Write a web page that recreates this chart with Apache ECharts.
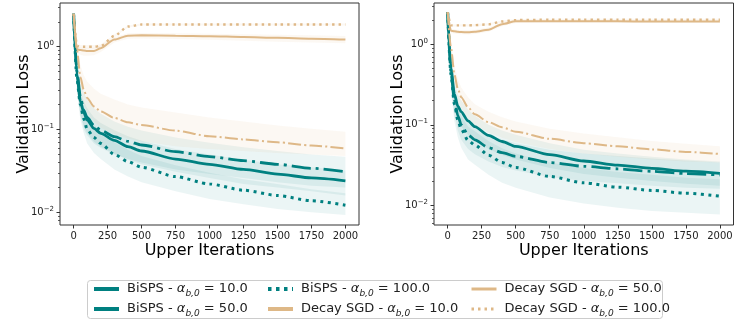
<!DOCTYPE html>
<html><head><meta charset="utf-8">
<script src="https://cdn.jsdelivr.net/npm/echarts@6/dist/echarts.min.js"></script>
<style>html,body{margin:0;padding:0;background:#fff}#c{width:740px;height:320px}</style>
</head><body><div id="c"></div><script>
// ---------------- data ----------------
const X = [0,25,50,75,100,150,200,300,400,500,750,1000,1250,1500,1750,2000];
const X_TICKS = [0,250,500,750,1000,1250,1500,1750,2000];
const Y_MAJOR = [0.01,0.1,1];
const Y_MINOR = [0.006,0.007,0.008,0.009,0.02,0.03,0.04,0.05,0.06,0.07,0.08,0.09,0.2,0.3,0.4,0.5,0.6,0.7,0.8,0.9,2,3];
const NAMES = ['BiSPS - α_{b,0} = 10.0','BiSPS - α_{b,0} = 50.0','BiSPS - α_{b,0} = 100.0',
               'Decay SGD - α_{b,0} = 10.0','Decay SGD - α_{b,0} = 50.0','Decay SGD - α_{b,0} = 100.0'];

// left panel means
const L_B10  = [2.5,0.5,0.25,0.17,0.14,0.112,0.098,0.082,0.072,0.065,0.054,0.047,0.042,0.038,0.034,0.031];
const L_B50  = [2.5,0.45,0.22,0.16,0.13,0.103,0.09,0.074,0.062,0.055,0.044,0.038,0.033,0.029,0.026,0.024];
const L_B100 = [2.5,0.4,0.2,0.135,0.1,0.08,0.068,0.05,0.041,0.035,0.027,0.022,0.0185,0.016,0.0138,0.0122];
const L_D10  = [2.5,0.9,0.43,0.3,0.24,0.19,0.165,0.138,0.122,0.113,0.097,0.083,0.076,0.07,0.064,0.059];
const L_D50  = [2.5,0.93,0.91,0.9,0.89,0.89,0.96,1.22,1.36,1.37,1.36,1.34,1.31,1.28,1.25,1.22];
const L_D100 = [2.5,1.02,1.0,1.0,1.0,1.0,1.02,1.35,1.75,1.85,1.85,1.85,1.85,1.85,1.85,1.85];
// left panel bands
const L_B10_LO  = [2.4,0.33,0.15,0.1,0.085,0.068,0.06,0.05,0.044,0.04,0.033,0.029,0.026,0.023,0.021,0.02];
const L_B10_HI  = [2.6,0.75,0.4,0.28,0.23,0.18,0.155,0.125,0.108,0.097,0.08,0.069,0.061,0.055,0.05,0.047];
const L_B50_LO  = [2.4,0.32,0.15,0.11,0.09,0.071,0.062,0.051,0.043,0.038,0.031,0.026,0.022,0.02,0.018,0.016];
const L_B50_HI  = [2.6,0.6,0.3,0.22,0.18,0.14,0.12,0.098,0.083,0.073,0.058,0.05,0.043,0.038,0.035,0.032];
const L_B100_LO = [2.4,0.28,0.13,0.09,0.068,0.052,0.044,0.033,0.027,0.023,0.018,0.0145,0.0125,0.011,0.01,0.0093];
const L_B100_HI = [2.6,0.55,0.28,0.19,0.145,0.115,0.095,0.07,0.057,0.048,0.037,0.03,0.025,0.022,0.019,0.017];
const L_D10_LO  = [2.4,0.75,0.32,0.2,0.16,0.125,0.105,0.088,0.078,0.072,0.063,0.058,0.055,0.052,0.05,0.048];
const L_D10_HI  = [2.6,1.1,0.6,0.45,0.38,0.31,0.27,0.23,0.2,0.185,0.16,0.14,0.125,0.112,0.102,0.094];
const L_D50_LO  = [2.4,0.85,0.8,0.78,0.78,0.79,0.86,1.12,1.25,1.26,1.24,1.21,1.18,1.15,1.12,1.1];
const L_D50_HI  = [2.6,1.0,0.98,0.97,0.97,0.97,1.04,1.3,1.45,1.46,1.45,1.43,1.41,1.39,1.37,1.35];
const L_D100_LO = [2.4,0.97,0.95,0.95,0.95,0.95,0.97,1.3,1.7,1.8,1.8,1.8,1.8,1.8,1.8,1.8];
const L_D100_HI = [2.6,1.07,1.05,1.05,1.05,1.05,1.07,1.4,1.8,1.9,1.9,1.9,1.9,1.9,1.9,1.9];

// right panel means
const R_B10  = [2.5,0.45,0.2,0.13,0.1,0.075,0.065,0.052,0.045,0.0405,0.034,0.0305,0.0284,0.0264,0.0248,0.0238];
const R_B50  = [2.5,0.5,0.24,0.17,0.145,0.112,0.095,0.074,0.062,0.054,0.0425,0.0355,0.0316,0.0288,0.0265,0.0249];
const R_B100 = [2.5,0.42,0.18,0.115,0.088,0.064,0.056,0.042,0.034,0.0295,0.0228,0.019,0.0168,0.0153,0.0141,0.013];
const R_D10  = [2.5,0.9,0.42,0.28,0.22,0.165,0.135,0.108,0.093,0.082,0.067,0.059,0.054,0.0495,0.046,0.0434];
const R_D50  = [2.5,1.47,1.45,1.43,1.42,1.41,1.43,1.52,1.78,1.93,1.93,1.93,1.93,1.92,1.92,1.92];
const R_D100 = [2.5,1.72,1.72,1.72,1.72,1.72,1.73,1.77,1.92,2.0,2.02,2.02,2.02,2.02,2.02,2.02];
// right panel bands
const R_B10_LO  = [2.4,0.3,0.13,0.085,0.065,0.05,0.043,0.035,0.03,0.027,0.0225,0.02,0.0188,0.0175,0.0165,0.016];
const R_B10_HI  = [2.6,0.65,0.3,0.2,0.15,0.11,0.095,0.076,0.066,0.059,0.049,0.044,0.041,0.038,0.036,0.034];
const R_B50_LO  = [2.4,0.35,0.16,0.115,0.095,0.075,0.064,0.05,0.042,0.037,0.029,0.0245,0.022,0.02,0.0185,0.0175];
const R_B50_HI  = [2.6,0.7,0.34,0.24,0.2,0.155,0.13,0.1,0.085,0.075,0.059,0.049,0.044,0.04,0.037,0.035];
const R_B100_LO = [2.4,0.27,0.11,0.07,0.052,0.037,0.032,0.024,0.019,0.0165,0.0125,0.0105,0.0093,0.0085,0.0081,0.0077];
const R_B100_HI = [2.6,0.6,0.27,0.17,0.13,0.095,0.083,0.063,0.051,0.044,0.034,0.029,0.026,0.024,0.022,0.021];
const R_D10_LO  = [2.4,0.75,0.32,0.2,0.16,0.12,0.1,0.08,0.069,0.061,0.05,0.044,0.04,0.037,0.035,0.034];
const R_D10_HI  = [2.6,1.1,0.55,0.37,0.29,0.22,0.18,0.145,0.124,0.11,0.089,0.078,0.07,0.063,0.058,0.054];
const R_D50_LO  = [2.4,1.38,1.36,1.34,1.33,1.32,1.34,1.43,1.68,1.84,1.86,1.86,1.86,1.85,1.85,1.85];
const R_D50_HI  = [2.6,1.56,1.54,1.52,1.51,1.5,1.52,1.62,1.88,2.02,2.0,2.0,2.0,1.99,1.99,1.99];
const R_D100_LO = [2.4,1.66,1.66,1.66,1.66,1.66,1.67,1.71,1.86,1.95,1.97,1.97,1.97,1.97,1.97,1.97];
const R_D100_HI = [2.6,1.78,1.78,1.78,1.78,1.78,1.79,1.83,1.98,2.06,2.08,2.08,2.08,2.08,2.08,2.08];

// ---------------- style ----------------
const TEAL = '#008080', TAN = '#DEB887';
const FONT = 'DejaVu Sans';
const LSTYLE = [
  {color: TEAL, width: 2.8, type: [19,5,3,5]},
  {color: TEAL, width: 2.8, type: 'solid'},
  {color: TEAL, width: 3, type: [3,4.5]},
  {color: TAN, width: 2, type: [12.8,3.2,2,3.2]},
  {color: TAN, width: 2, type: 'solid'},
  {color: TAN, width: 2.4, type: [2.4,4]}
];
const BAND_ALPHA = [0.08,0.08,0.08,0.1,0.1,0.1];

const PANELS = [
  {means: [L_B10,L_B50,L_B100,L_D10,L_D50,L_D100],
   lo: [L_B10_LO,L_B50_LO,L_B100_LO,L_D10_LO,L_D50_LO,L_D100_LO],
   hi: [L_B10_HI,L_B50_HI,L_B100_HI,L_D10_HI,L_D50_HI,L_D100_HI],
   yMin: 0.00703, yMax: 3.37, grid: {left: 60, top: 3, width: 299, height: 222}},
  {means: [R_B10,R_B50,R_B100,R_D10,R_D50,R_D100],
   lo: [R_B10_LO,R_B50_LO,R_B100_LO,R_D10_LO,R_D50_LO,R_D100_LO],
   hi: [R_B10_HI,R_B50_HI,R_B100_HI,R_D10_HI,R_D50_HI,R_D100_HI],
   yMin: 0.00569, yMax: 3.26, grid: {left: 434, top: 3, width: 299.5, height: 222}}
];

const grids = [], xAxes = [], yAxes = [], series = [];
PANELS.forEach((p, pi) => {
  grids.push(Object.assign({show: true, borderColor: '#333', borderWidth: 1, backgroundColor: '#fff', containLabel: false, outerBoundsMode: 'none'}, p.grid));
  xAxes.push({
    type: 'value', gridIndex: pi, min: -100, max: 2100, position: 'bottom',
    name: 'Upper Iterations', nameLocation: 'middle', nameGap: 18, nameMoveOverlap: false,
    nameTextStyle: {fontFamily: FONT, fontSize: 16, color: '#000'},
    axisLine: {show: false, onZero: false}, splitLine: {show: false},
    axisTick: {show: true, length: 3.5, customValues: X_TICKS, lineStyle: {color: '#333', width: 1}},
    axisLabel: {show: true, customValues: X_TICKS, margin: 6, fontFamily: FONT, fontSize: 10, color: '#222',
      formatter: v => String(v)}
  });
  const minors = Y_MINOR.filter(v => v > p.yMin && v < p.yMax);
  yAxes.push({
    type: 'log', logBase: 10, gridIndex: pi, min: p.yMin, max: p.yMax, position: 'left',
    name: 'Validation Loss', nameLocation: 'middle', nameGap: 28, nameMoveOverlap: false,
    nameTextStyle: {fontFamily: FONT, fontSize: 16, color: '#000'},
    axisLine: {show: false, onZero: false}, splitLine: {show: false}, minorTick: {show: false},
    axisTick: {show: true, length: 3.5, customValues: Y_MAJOR, lineStyle: {color: '#333', width: 1}},
    axisLabel: {show: true, customValues: Y_MAJOR, margin: 6, fontFamily: FONT, fontSize: 10, color: '#222', lineHeight: 14,
      formatter: v => { const e = Math.round(Math.log10(v)); return '10{sup|' + (e < 0 ? '\u2212' + (-e) : e) + '}'; },
      rich: {sup: {fontFamily: FONT, fontSize: 7, lineHeight: 8, verticalAlign: 'top', color: '#222'}}}
  });
  yAxes.push({
    type: 'log', logBase: 10, gridIndex: pi, min: p.yMin, max: p.yMax, position: 'left', offset: 0,
    axisLine: {show: false, onZero: false}, splitLine: {show: false}, axisLabel: {show: false},
    axisTick: {show: true, length: 2, customValues: minors, lineStyle: {color: '#333', width: 0.8}}
  });
  const yi = pi * 2;
  // bands
  p.means.forEach((m, si) => {
    const lo = p.lo[si], hi = p.hi[si];
    series.push({
      type: 'custom', xAxisIndex: pi, yAxisIndex: yi, silent: true, z: 1, clip: true,
      data: X.map((x, i) => [x, lo[i], hi[i]]),
      encode: {x: 0, y: [1, 2]},
      renderItem: (params, api) => {
        if (params.dataIndex !== 0) return null;
        const top = X.map((x, i) => api.coord([x, hi[i]]));
        const bot = X.map((x, i) => api.coord([x, lo[i]])).reverse();
        return {type: 'polygon', shape: {points: top.concat(bot)},
                style: {fill: LSTYLE[si].color, opacity: BAND_ALPHA[si]}};
      }
    });
  });
  // lines
  p.means.forEach((m, si) => {
    series.push({
      type: 'line', name: NAMES[si], xAxisIndex: pi, yAxisIndex: yi, silent: true, z: 3,
      data: X.map((x, i) => [x, m[i]]), symbol: 'none', showSymbol: false,
      smooth: 0.25, smoothMonotone: 'x',
      lineStyle: Object.assign({cap: 'butt'}, LSTYLE[si]), itemStyle: {color: LSTYLE[si].color}
    });
  });
});

const legendFmt = n => n.replace('α_{b,0}', '{a|α}{s|b,0}');
const legendRich = {
  a: {fontFamily: FONT, fontSize: 13, fontStyle: 'italic', color: '#222', lineHeight: 18},
  s: {fontFamily: FONT, fontSize: 9, fontStyle: 'italic', color: '#222', lineHeight: 10, verticalAlign: 'bottom'}
};
const HIDE_SYM = {opacity: 0, borderWidth: 0};
const LEG_ITEMS = [
  {name: NAMES[0], itemStyle: HIDE_SYM, lineStyle: {type: 'solid', width: 4}},
  {name: NAMES[1], itemStyle: HIDE_SYM, lineStyle: {type: 'solid', width: 4}},
  {name: NAMES[2], itemStyle: HIDE_SYM, lineStyle: {type: [3.5,4.5], width: 4}},
  {name: NAMES[3], itemStyle: HIDE_SYM, lineStyle: {type: 'solid', width: 4}},
  {name: NAMES[4], itemStyle: HIDE_SYM, lineStyle: {type: 'solid', width: 3}},
  {name: NAMES[5], itemStyle: HIDE_SYM, lineStyle: {type: [2.5,4], width: 3}}
];
function mkLegend(left, items) {
  return {
    orient: 'vertical', left: left, top: 280, padding: 0, itemGap: 2,
    itemWidth: 25, itemHeight: 14, selectedMode: false,
    data: items, formatter: legendFmt,
    textStyle: {fontFamily: FONT, fontSize: 13, color: '#222', lineHeight: 18, padding: [0,0,0,3], rich: legendRich}
  };
}

const chart = echarts.init(document.getElementById('c'), null, {renderer: 'canvas'});
chart.setOption({
  animation: false,
  backgroundColor: '#fff',
  grid: grids, xAxis: xAxes, yAxis: yAxes, series: series,
  legend: [mkLegend(92, LEG_ITEMS.slice(0,2)), mkLegend(266, LEG_ITEMS.slice(2,4)), mkLegend(470, LEG_ITEMS.slice(4,6))],
  graphic: [{type: 'rect', z: 0, silent: true, shape: {x: 87.5, y: 280.5, width: 575, height: 38, r: 3},
             style: {fill: '#fff', stroke: '#ccc', lineWidth: 1}}]
});
</script></body></html>
